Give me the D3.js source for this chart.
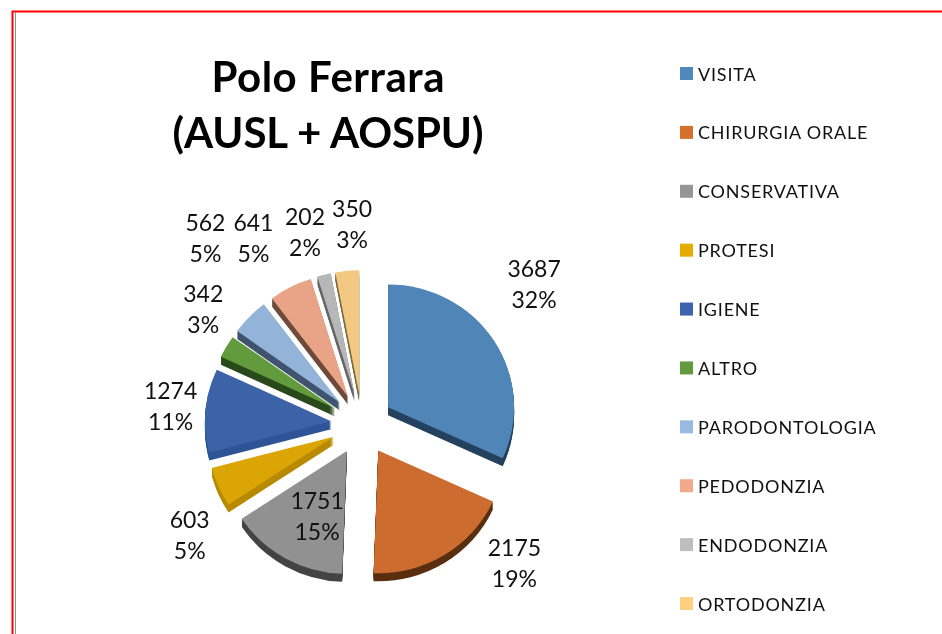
<!DOCTYPE html>
<html>
<head>
<meta charset="utf-8">
<script src="https://cdn.jsdelivr.net/npm/d3@7"></script>
<style>
html, body { margin: 0; padding: 0; background: #fff; overflow: hidden; }
text { font-family: Lato, "Open Sans", sans-serif; fill: #111; }
svg { filter: blur(0.45px); } /* reference is a soft upscaled screenshot */
</style>
</head>
<body>
<div id="chart"></div>
<script>
var titleLines = ["Polo Ferrara", "(AUSL + AOSPU)"];
var categories = ["VISITA", "CHIRURGIA ORALE", "CONSERVATIVA", "PROTESI", "IGIENE", "ALTRO", "PARODONTOLOGIA", "PEDODONZIA", "ENDODONZIA", "ORTODONZIA"];
var values = [3687, 2175, 1751, 603, 1274, 342, 562, 641, 202, 350];
var percents = ["32%", "19%", "15%", "5%", "11%", "3%", "5%", "5%", "2%", "3%"];

var legendColors = ["#4f88bd", "#d4702b", "#969696", "#e5ac00", "#3c63ac", "#629b3d", "#98b9e0", "#f2a98b", "#bebebe", "#ffd080"];
var faceColors = ["#5085b8", "#cc6c2e", "#919191", "#dba506", "#3c62a8", "#629a3e", "#94b3d8", "#e9a386", "#b7b7b7", "#f3c882"];
var sideColors = ["#24425f", "#5a2f10", "#444444", "#b88a00", "#2f5597", "#2a4a1b", "#40546f", "#6e4a3a", "#666666", "#7a6a40"];
// label nudge from the point just outside each slice, layout only
var labelNudge = [[40, -56], [70, 10], [32, -40], [-29, 49], [-35, -4], [-23, -37], [-44, -78], [-37, -49], [-19, -42], [5, -47]];
var titleWidths = [233, 311];

var width = 942, height = 634,
	cx = 362, cy = 424,
	radius = 126,
	squash = 0.975,
	explode = 31,
	depth = 8;

var svg = d3.select("#chart")
	.append("svg")
	.attr("width", width)
	.attr("height", height)
	.style("display", "block");

// frame, only top and left are in the crop
svg.append("path")
	.attr("d", "M12.5," + height + "V11.5H" + width)
	.attr("fill", "none")
	.attr("stroke", "#ff0000")
	.attr("stroke-width", 2);
svg.append("line")
	.attr("x1", 15.5).attr("x2", 15.5)
	.attr("y1", 12).attr("y2", height)
	.attr("stroke", "#909090");

svg.selectAll("text.title")
	.data(titleLines)
	.enter()
	.append("text")
	.attr("class", "title")
	.attr("x", 328)
	.attr("y", function(d, i) { return 92 + i * 56; })
	.attr("text-anchor", "middle")
	.attr("font-size", 42)
	.attr("font-weight", 700)
	.attr("textLength", function(d, i) { return titleWidths[i]; })
	.style("fill", "#000")
	.text(function(d) { return d; });

var pie = d3.pie().sort(null);
var slices = pie(values);
var arc = d3.arc().innerRadius(0).outerRadius(radius);
var offsetArc = d3.arc().innerRadius(explode).outerRadius(explode);
var labelArc = d3.arc().innerRadius(radius + explode).outerRadius(radius + explode);

var slice = svg.selectAll("g.slice")
	.data(slices)
	.enter()
	.append("g")
	.attr("class", "slice")
	.attr("transform", function(d) {
		var c = offsetArc.centroid(d);
		return "translate(" + (cx + c[0]) + "," + (cy + c[1]) + ")";
	});

// side wall is the same wedge stacked downward
slice.each(function(d, i) {
	d3.select(this).selectAll("path.side")
		.data(d3.range(depth, 0, -1))
		.enter()
		.append("path")
		.attr("class", "side")
		.attr("d", arc(d))
		.attr("fill", sideColors[i])
		.attr("transform", function(k) { return "translate(0," + k + ") scale(1," + squash + ")"; });
});

slice.append("path")
	.attr("class", "face")
	.attr("d", arc)
	.attr("fill", function(d, i) { return faceColors[i]; })
	.attr("transform", "scale(1," + squash + ")");

var label = svg.selectAll("g.label")
	.data(slices)
	.enter()
	.append("g")
	.attr("class", "label")
	.attr("transform", function(d, i) {
		var c = labelArc.centroid(d);
		return "translate(" + (cx + c[0] + labelNudge[i][0]) + "," + (cy + c[1] * squash + labelNudge[i][1]) + ")";
	});

label.append("text")
	.attr("text-anchor", "middle")
	.attr("y", -8)
	.attr("font-size", 23)
	.text(function(d, i) { return values[i]; });

label.append("text")
	.attr("text-anchor", "middle")
	.attr("y", 23)
	.attr("font-size", 23)
	.text(function(d, i) { return percents[i]; });

var legendY = d3.scalePoint()
	.domain(categories)
	.range([74, 604]);

var legend = svg.selectAll("g.legend")
	.data(categories)
	.enter()
	.append("g")
	.attr("class", "legend")
	.attr("transform", function(d) { return "translate(680," + legendY(d) + ")"; });

legend.append("rect")
	.attr("y", -7)
	.attr("width", 13)
	.attr("height", 13)
	.attr("fill", function(d, i) { return legendColors[i]; });

legend.append("text")
	.attr("x", 18)
	.attr("y", 6.5)
	.attr("font-size", 18)
	.attr("letter-spacing", 0.8)
	.text(function(d) { return d; });
</script>
</body>
</html>
